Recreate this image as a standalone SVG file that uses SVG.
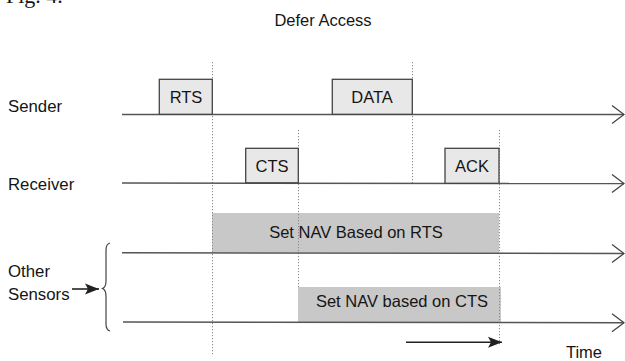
<svg xmlns="http://www.w3.org/2000/svg" width="625" height="361" viewBox="0 0 625 361">
<style>
text{font-family:"Liberation Sans",Arial,sans-serif;font-size:16.5px;fill:#151515}
.lbl{font-size:16.8px}
.c{text-anchor:middle}
.frame{fill:#e8e8e8;stroke:#444;stroke-width:1.3}
.nav{fill:#c8c8c8;stroke:none}
.tl{fill:none;stroke:#555;stroke-width:1.5}
.dot{fill:none;stroke:#888;stroke-width:1;stroke-dasharray:1.2 1.8}
.arr{fill:none;stroke:#222;stroke-width:1.6}
.brace{fill:none;stroke:#444;stroke-width:1.2}
</style>
<defs>
<marker id="open" markerUnits="userSpaceOnUse" markerWidth="14" markerHeight="20" viewBox="-1 -10 14 20" refX="12" refY="0" orient="auto">
<path d="M0,-9 L12,0 L0,9" fill="none" stroke="#444" stroke-width="1.3"/>
</marker>
<marker id="solid" markerUnits="userSpaceOnUse" markerWidth="15" markerHeight="12" viewBox="0 -6 15 12" refX="14" refY="0" orient="auto">
<path d="M0,-5.5 L14,0 L0,5.5 L3,0 Z" fill="#222"/>
</marker>
</defs>
<text x="6" y="3" style="font-family:'Liberation Serif','Times New Roman',serif;font-size:22px">Fig. 4.</text>
<g id="title"><text class="c" x="323" y="26">Defer Access</text></g>
<g id="nav-rts"><rect class="nav" x="212" y="213" width="287" height="39.5"/><text class="c" x="356" y="238">Set NAV Based on RTS</text></g>
<g id="nav-cts"><rect class="nav" x="298" y="287" width="203" height="35"/><text class="c" x="402" y="307">Set NAV based on CTS</text></g>
<g id="connectors">
<line class="dot" x1="212.5" y1="62" x2="212.5" y2="355"/>
<line class="dot" x1="412.5" y1="62" x2="412.5" y2="184"/>
<line class="dot" x1="298.5" y1="130" x2="298.5" y2="287"/>
<line class="dot" x1="499.5" y1="130" x2="499.5" y2="346"/>
<line class="tl" x1="122" y1="114.5" x2="624" y2="114.5" marker-end="url(#open)"/>
<line class="tl" x1="122" y1="183" x2="624" y2="183.5" marker-end="url(#open)"/>
<line class="tl" x1="122" y1="252.7" x2="624" y2="253.5" marker-end="url(#open)"/>
<line class="tl" x1="123" y1="322" x2="624" y2="322.8" marker-end="url(#open)"/>
<line class="arr" x1="72" y1="289" x2="99" y2="289" marker-end="url(#solid)"/>
<line class="arr" x1="406" y1="342.3" x2="502" y2="342.3" marker-end="url(#solid)"/>
<path class="brace" d="M110,243 Q106,244 106,250 L106,281 Q106,287 102.5,288.5 Q106,290 106,296 L106,324 Q106,330 110,331"/>
</g>
<g id="sender"><text class="lbl" x="8" y="112">Sender</text></g>
<g id="receiver"><text class="lbl" x="8" y="190">Receiver</text></g>
<g id="other-sensors"><text class="lbl" x="8" y="277">Other</text><text class="lbl" x="8" y="300">Sensors</text></g>
<g id="rts"><rect class="frame" x="159.3" y="79.3" width="53" height="35"/><text class="c" x="186" y="103">RTS</text></g>
<g id="data"><rect class="frame" x="332.3" y="79.3" width="80" height="35"/><text class="c" x="372" y="103">DATA</text></g>
<g id="cts"><rect class="frame" x="245.7" y="148.3" width="52.6" height="34.5"/><text class="c" x="272" y="172">CTS</text></g>
<g id="ack"><rect class="frame" x="445" y="148.3" width="54" height="35"/><text class="c" x="472" y="172">ACK</text></g>
<g id="time"><text class="c" x="584" y="358">Time</text></g>
</svg>
